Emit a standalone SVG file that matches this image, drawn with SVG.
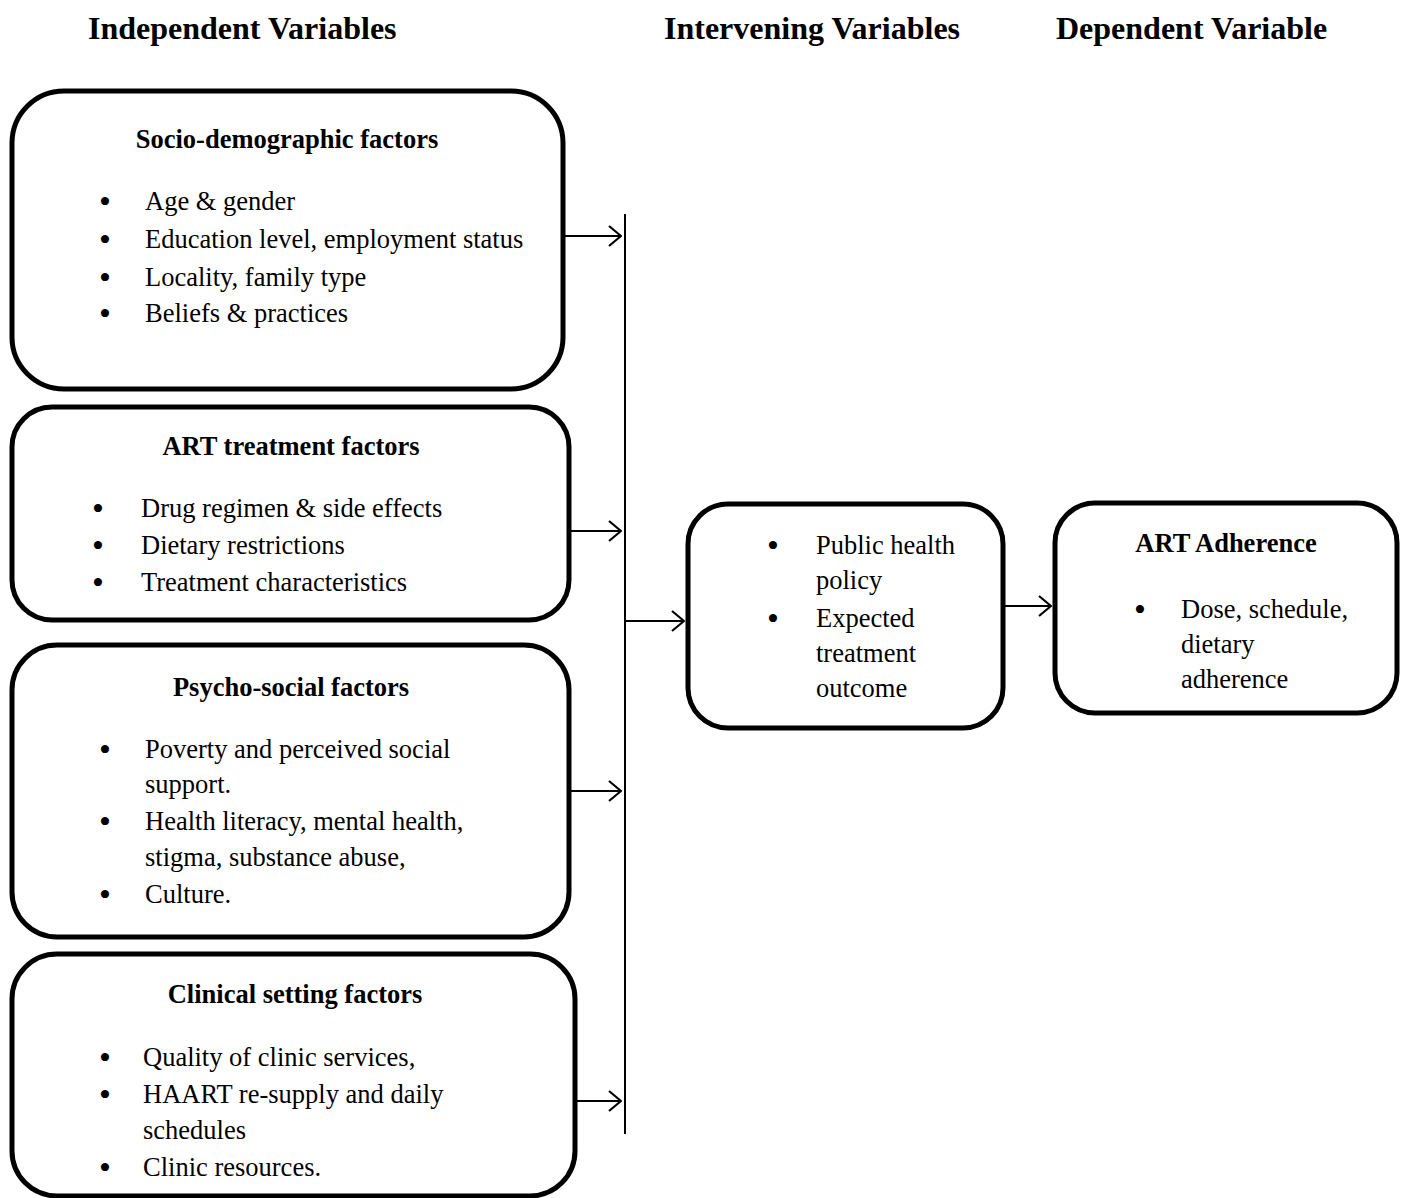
<svg xmlns="http://www.w3.org/2000/svg" width="1405" height="1198" viewBox="0 0 1405 1198">
<style>
.box{fill:#fff;stroke:#000;stroke-width:5}
.t{font-family:"Liberation Serif","Times New Roman",serif;font-size:26.5px;fill:#000}
.bu{font-size:34px}
.b{font-family:"Liberation Serif","Times New Roman",serif;font-size:26.5px;font-weight:bold;fill:#000}
.h{font-family:"Liberation Serif","Times New Roman",serif;font-size:32px;font-weight:bold;fill:#000}
.ln{stroke:#000;stroke-width:2;fill:none}
</style>
<defs>
<marker id="ah" viewBox="0 0 14 22" refX="13" refY="11" markerWidth="14" markerHeight="22" markerUnits="userSpaceOnUse" orient="auto">
<polyline points="1,1 13,11 1,21" fill="none" stroke="#000" stroke-width="2.2"/>
</marker>
</defs>
<rect width="1405" height="1198" fill="#fff"/>
<g id="headers">
<text class="h" x="88" y="39">Independent Variables</text>
<text class="h" x="664" y="39">Intervening Variables</text>
<text class="h" x="1056" y="39">Dependent Variable</text>
</g>
<g id="socio">
<rect class="box" x="12" y="91" width="551" height="298" rx="52"/>
<text class="b" x="287" y="148" text-anchor="middle">Socio-demographic factors</text>
<text class="t" y="210"><tspan class="bu" x="99" dy="2.5">•</tspan><tspan x="145" dy="-2.5">Age &amp; gender</tspan></text>
<text class="t" y="248"><tspan class="bu" x="99" dy="2.5">•</tspan><tspan x="145" dy="-2.5">Education level, employment status</tspan></text>
<text class="t" y="286"><tspan class="bu" x="99" dy="2.5">•</tspan><tspan x="145" dy="-2.5">Locality, family type</tspan></text>
<text class="t" y="322"><tspan class="bu" x="99" dy="2.5">•</tspan><tspan x="145" dy="-2.5">Beliefs &amp; practices</tspan></text>
</g>
<g id="art">
<rect class="box" x="12" y="407" width="557" height="213" rx="40"/>
<text class="b" x="291" y="455" text-anchor="middle">ART treatment factors</text>
<text class="t" y="517"><tspan class="bu" x="92" dy="2.5">•</tspan><tspan x="141" dy="-2.5">Drug regimen &amp; side effects</tspan></text>
<text class="t" y="554"><tspan class="bu" x="92" dy="2.5">•</tspan><tspan x="141" dy="-2.5">Dietary restrictions</tspan></text>
<text class="t" y="591"><tspan class="bu" x="92" dy="2.5">•</tspan><tspan x="141" dy="-2.5">Treatment characteristics</tspan></text>
</g>
<g id="psycho">
<rect class="box" x="12" y="645" width="557" height="292" rx="45"/>
<text class="b" x="291" y="696" text-anchor="middle">Psycho-social factors</text>
<text class="t" y="758"><tspan class="bu" x="99" dy="2.5">•</tspan><tspan x="145" dy="-2.5">Poverty and perceived social</tspan></text>
<text class="t" x="145" y="793">support.</text>
<text class="t" y="830"><tspan class="bu" x="99" dy="2.5">•</tspan><tspan x="145" dy="-2.5">Health literacy, mental health,</tspan></text>
<text class="t" x="145" y="866">stigma, substance abuse,</text>
<text class="t" y="903"><tspan class="bu" x="99" dy="2.5">•</tspan><tspan x="145" dy="-2.5">Culture.</tspan></text>
</g>
<g id="clinical">
<rect class="box" x="12" y="954" width="563" height="242" rx="45"/>
<text class="b" x="295" y="1003" text-anchor="middle">Clinical setting factors</text>
<text class="t" y="1066"><tspan class="bu" x="99" dy="2.5">•</tspan><tspan x="143" dy="-2.5">Quality of clinic services,</tspan></text>
<text class="t" y="1103"><tspan class="bu" x="99" dy="2.5">•</tspan><tspan x="143" dy="-2.5">HAART re-supply and daily</tspan></text>
<text class="t" x="143" y="1139">schedules</text>
<text class="t" y="1176"><tspan class="bu" x="99" dy="2.5">•</tspan><tspan x="143" dy="-2.5">Clinic resources.</tspan></text>
</g>
<g id="intervening">
<rect class="box" x="688" y="504" width="315" height="224" rx="40"/>
<text class="t" y="554"><tspan class="bu" x="767" dy="2.5">•</tspan><tspan x="816" dy="-2.5">Public health</tspan></text>
<text class="t" x="816" y="589">policy</text>
<text class="t" y="627"><tspan class="bu" x="767" dy="2.5">•</tspan><tspan x="816" dy="-2.5">Expected</tspan></text>
<text class="t" x="816" y="662">treatment</text>
<text class="t" x="816" y="697">outcome</text>
</g>
<g id="adherence">
<rect class="box" x="1055" y="503" width="342" height="210" rx="40"/>
<text class="b" x="1226" y="552" text-anchor="middle">ART Adherence</text>
<text class="t" y="618"><tspan class="bu" x="1134" dy="2.5">•</tspan><tspan x="1181" dy="-2.5">Dose, schedule,</tspan></text>
<text class="t" x="1181" y="653">dietary</text>
<text class="t" x="1181" y="688">adherence</text>
</g>
<g id="connectors">
<line class="ln" x1="625" y1="214" x2="625" y2="1134"/>
<line class="ln" x1="565" y1="236" x2="621" y2="236" marker-end="url(#ah)"/>
<line class="ln" x1="571" y1="531" x2="621" y2="531" marker-end="url(#ah)"/>
<line class="ln" x1="571" y1="791" x2="621" y2="791" marker-end="url(#ah)"/>
<line class="ln" x1="577" y1="1101" x2="621" y2="1101" marker-end="url(#ah)"/>
<line class="ln" x1="625" y1="621" x2="684" y2="621" marker-end="url(#ah)"/>
<line class="ln" x1="1005" y1="606" x2="1051" y2="606" marker-end="url(#ah)"/>
</g>
</svg>
